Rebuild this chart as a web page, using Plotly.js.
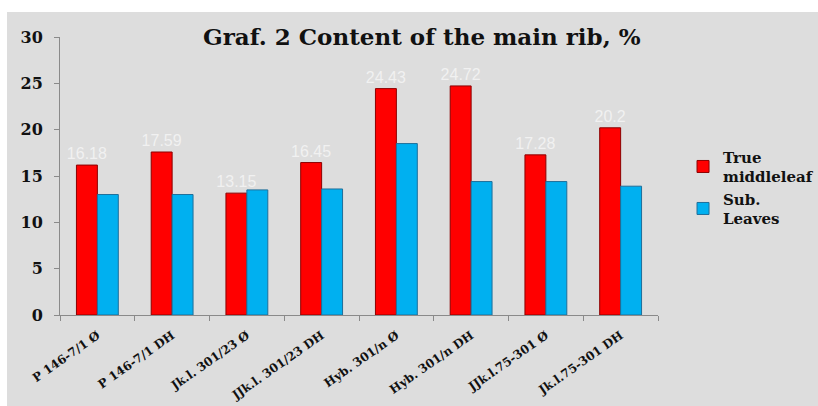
<!DOCTYPE html>
<html><head><meta charset="utf-8">
<script src="https://cdn.plot.ly/plotly-3.0.1.min.js"></script>
<style>
html,body{margin:0;padding:0;background:#fff;}
#bg{position:absolute;left:7px;top:12px;width:811px;height:394px;background:#dddddd;}
#chart{position:absolute;left:0;top:0;width:818px;height:406px;}
</style></head>
<body><div id="bg"></div><div id="chart"></div>
<script>
const categories = ["P 146-7/1 Ø","P 146-7/1 DH","Jk.l. 301/23 Ø","JJk.l. 301/23 DH","Hyb. 301/n Ø","Hyb. 301/n DH","JJk.l.75-301 Ø","Jk.l.75-301 DH"];
const trueMiddleLeaf = [16.18,17.59,13.15,16.45,24.43,24.72,17.28,20.2];
const subLeaves = [13.0,13.0,13.5,13.6,18.5,14.4,14.4,13.9];
const seriesNames = ["True<br>middleleaf","Sub.<br>Leaves"];
const serif = "DejaVu Serif, serif";

const traces = [
 {type:'bar', name:seriesNames[0], x:categories, y:trueMiddleLeaf,
  marker:{color:'#ff0000', line:{color:'#8b0000', width:1}},
  text:trueMiddleLeaf.map(String), textposition:'outside', cliponaxis:false, constraintext:'none',
  textfont:{family:'Liberation Sans, Arial, sans-serif', size:16, color:'rgba(255,255,255,0.6)'}},
 {type:'bar', name:seriesNames[1], x:categories, y:subLeaves,
  marker:{color:'#00b0f0', line:{color:'#1f6f9a', width:1}}}
];
const layout = {
 width:818, height:406,
 paper_bgcolor:'rgba(0,0,0,0)', plot_bgcolor:'rgba(0,0,0,0)',
 margin:{l:60, r:160, t:37, b:91},
 barmode:'group', bargap:0.44, bargroupgap:0,
 title:{text:'<b>Graf. 2 Content of the main rib, %</b>', font:{family:serif, size:23, color:'#111'},
  x:0.605, xanchor:'center', xref:'paper', y:0.909, yref:'container', yanchor:'middle'},
 xaxis:{showline:true, linecolor:'#8a8a8a', ticks:'outside', tickson:'boundaries', ticklen:5, tickcolor:'#8a8a8a',
  tickangle:-35, ticklabelstandoff:8, tickfont:{family:serif, size:12, color:'#111', weight:'bold'}, showgrid:false},
 yaxis:{range:[0,30], dtick:5, showline:true, linecolor:'#8a8a8a', ticks:'outside', ticklen:5, tickcolor:'#8a8a8a',
  ticklabelstandoff:8, tickfont:{family:serif, size:16, color:'#111', weight:'bold'}, showgrid:false, zeroline:false},
 legend:{x:0.835, xref:'container', xanchor:'left', y:0.654, yref:'container', yanchor:'top', bgcolor:'rgba(0,0,0,0)',
  font:{family:serif, size:15, color:'#111', weight:'bold'}, tracegroupgap:10, itemwidth:30},
 showlegend:true
};
Plotly.newPlot('chart', traces, layout, {displayModeBar:false, staticPlot:true});
</script></body></html>
